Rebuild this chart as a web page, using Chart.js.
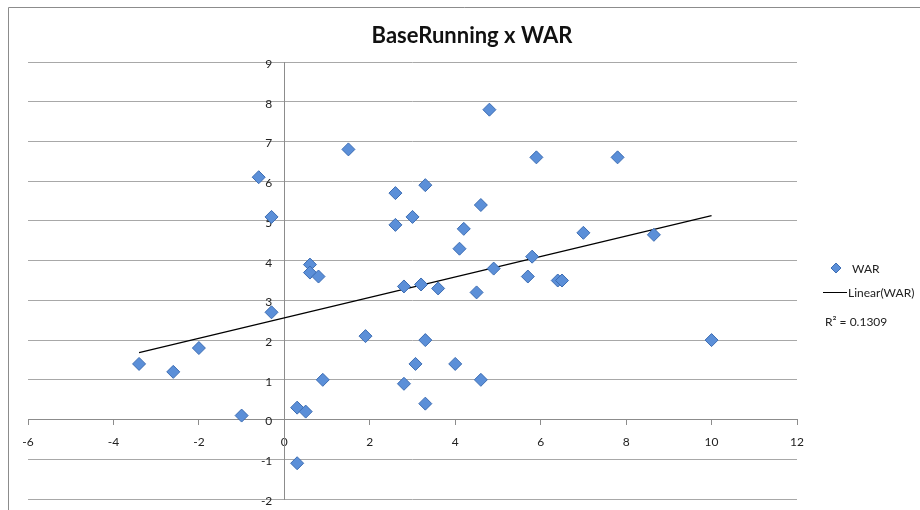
<!DOCTYPE html>
<html>
<head>
<meta charset="utf-8">
<script src="https://cdn.jsdelivr.net/npm/chart.js@4.4.1/dist/chart.umd.min.js"></script>
<style>
  html, body { margin: 0; padding: 0; background: #fff; }
  #wrap { width: 920px; height: 510px; position: relative; }
</style>
</head>
<body>
<div id="wrap"><canvas id="scatterChart"></canvas></div>
<script>
// BaseRunning (x) vs WAR (y)
const baseRunning = [-3.4, -2.6, -2.0, -1.0, -0.6, -0.3, -0.3, 0.3, 0.5, 0.3, 0.6, 0.6, 0.8, 0.9,
  1.5, 1.9, 2.6, 2.6, 2.8, 2.8, 3.0, 3.07, 3.2, 3.3, 3.3, 3.3, 3.6, 4.0, 4.1, 4.2, 4.5, 4.6, 4.6,
  4.8, 4.9, 5.7, 5.8, 5.9, 6.4, 6.5, 7.0, 7.8, 8.65, 10.0];
const war = [1.4, 1.2, 1.8, 0.1, 6.1, 5.1, 2.7, 0.3, 0.2, -1.1, 3.9, 3.7, 3.6, 1.0,
  6.8, 2.1, 5.7, 4.9, 3.35, 0.9, 5.1, 1.4, 3.4, 5.9, 2.0, 0.4, 3.3, 1.4, 4.3, 4.8, 3.2, 5.4, 1.0,
  7.8, 3.8, 3.6, 4.1, 6.6, 3.5, 3.5, 4.7, 6.6, 4.65, 2.0];
const xTicks = [-6, -4, -2, 0, 2, 4, 6, 8, 10, 12];
const yTicks = [-2, -1, 0, 1, 2, 3, 4, 5, 6, 7, 8, 9];
const chartTitle = "BaseRunning x WAR";
const rSquaredText = "R² = 0.1309";

const points = baseRunning.map((x, i) => ({ x: x, y: war[i] }));

// least squares trendline, like Excel's Linear(WAR)
const n = points.length;
const mx = baseRunning.reduce((a, b) => a + b, 0) / n;
const my = war.reduce((a, b) => a + b, 0) / n;
let sxy = 0, sxx = 0;
points.forEach(p => { sxy += (p.x - mx) * (p.y - my); sxx += (p.x - mx) * (p.x - mx); });
const slope = sxy / sxx;
const intercept = my - slope * mx;
const xMin = Math.min(...baseRunning);
const xMax = Math.max(...baseRunning);
const trend = [
  { x: xMin, y: intercept + slope * xMin },
  { x: xMax, y: intercept + slope * xMax },
];

const FONT = "Lato, 'Open Sans', sans-serif";
const markerFill = "#5b8fd8";
const markerEdge = "#3d6db3";

// frame, title, legend and R² text
const decorations = {
  id: "decorations",
  beforeDraw(chart) {
    const c = chart.ctx;
    c.save();
    c.fillStyle = "#fff";
    c.fillRect(0, 0, chart.width, chart.height);
    c.strokeStyle = "#8c8c8c";
    c.lineWidth = 1;
    c.beginPath();
    c.moveTo(8.5, chart.height);
    c.lineTo(8.5, 7.5);
    c.lineTo(chart.width, 7.5);
    c.stroke();
    c.restore();
  },
  afterDraw(chart) {
    const c = chart.ctx;
    c.save();
    c.fillStyle = "#111";
    c.font = "bold 22px " + FONT;
    c.textAlign = "center";
    c.textBaseline = "middle";
    c.fillText(chartTitle, 472, 36);
    c.textAlign = "left";
    // WAR marker
    c.fillStyle = markerFill;
    c.strokeStyle = markerEdge;
    c.lineWidth = 1;
    c.beginPath();
    c.moveTo(836, 263); c.lineTo(841, 268); c.lineTo(836, 273); c.lineTo(831, 268);
    c.closePath();
    c.fill(); c.stroke();
    // trend line sample
    c.strokeStyle = "#000";
    c.beginPath();
    c.moveTo(823, 292.5); c.lineTo(847, 292.5);
    c.stroke();
    c.fillStyle = "#222";
    c.font = "12px " + FONT;
    c.fillText("WAR", 852, 269);
    c.fillText("Linear(WAR)", 848, 293);
    c.fillText(rSquaredText, 825, 322);
    c.restore();
  },
};

const ctx = document.getElementById("scatterChart").getContext("2d");
new Chart(ctx, {
  type: "scatter",
  data: {
    datasets: [
      {
        label: "WAR",
        data: points,
        pointStyle: "rectRot",
        pointRadius: 6.5,
        pointHoverRadius: 6.5,
        backgroundColor: markerFill,
        borderColor: markerEdge,
        borderWidth: 1,
        order: 1,
      },
      {
        label: "Linear(WAR)",
        type: "line",
        data: trend,
        borderColor: "#000",
        borderWidth: 1.2,
        pointRadius: 0,
        fill: false,
        order: 2,
      },
    ],
  },
  options: {
    responsive: true,
    maintainAspectRatio: false,
    animation: false,
    layout: {
      padding: { left: 28, right: 123, top: 62, bottom: 11 },
    },
    plugins: {
      legend: { display: false },
      tooltip: { enabled: false },
      title: { display: false },
    },
    scales: {
      x: {
        type: "linear",
        position: { y: 0 },
        min: -6,
        max: 12,
        afterBuildTicks: (axis) => { axis.ticks = xTicks.map(v => ({ value: v })); },
        grid: {
          drawOnChartArea: false,
          drawTicks: true,
          tickLength: 5,
          color: "#8c8c8c",
        },
        border: { display: true, color: "#8c8c8c" },
        ticks: {
          color: "#222",
          padding: 10,
          font: { family: FONT, size: 12 },
        },
      },
      y: {
        type: "linear",
        position: { x: 0 },
        min: -2,
        max: 9,
        afterBuildTicks: (axis) => { axis.ticks = yTicks.map(v => ({ value: v })); },
        grid: {
          color: "#a8a8a8",
          drawTicks: false,
        },
        border: { display: true, color: "#8c8c8c" },
        ticks: {
          color: "#222",
          labelOffset: 2,
          font: { family: FONT, size: 12 },
          // labels sit a little left of the axis line
          callback: (v) => v + "\u2002\u2002",
        },
      },
    },
  },
  plugins: [decorations],
});
</script>
</body>
</html>
